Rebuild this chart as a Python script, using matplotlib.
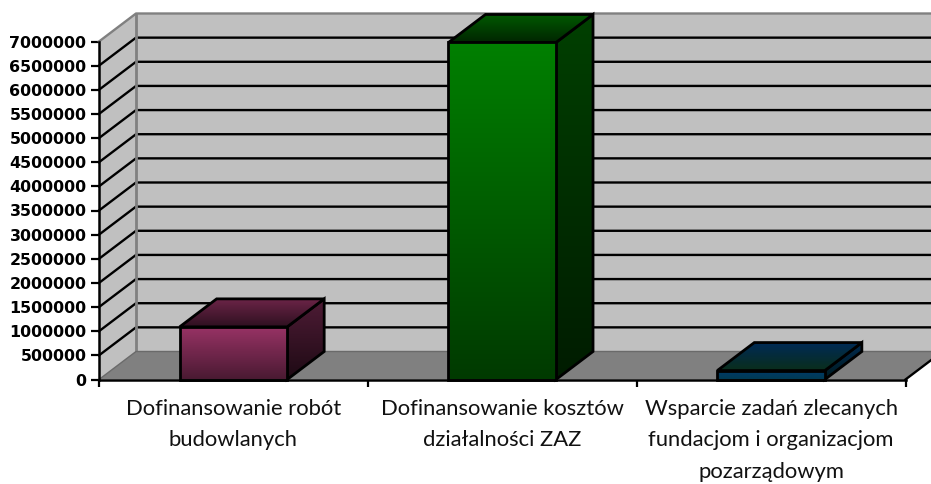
import numpy as np
import matplotlib
matplotlib.use('Agg')
import matplotlib.pyplot as plt
from matplotlib.colors import LinearSegmentedColormap
from matplotlib.patches import Polygon

categories = ['Dofinansowanie robót\nbudowlanych',
              'Dofinansowanie kosztów\ndziałalności ZAZ',
              'Wsparcie zadań zlecanych\nfundacjom i organizacjom\npozarządowym']
values = [1090000, 6980000, 185000]
y_ticks = list(range(0, 7000001, 500000))

# top colour, bottom colour of each face
front_cols = [('#993366', '#4a1a32'), ('#008000', '#003a00'), ('#003a6c', '#003a52')]
top_cols = [('#6b2447', '#2e1020'), ('#005a00', '#002600'), ('#002a55', '#0a2e1a')]
side_cols = [('#4f1c36', '#1e0a14'), ('#004000', '#001c00'), ('#002a50', '#001c22')]

W, H = 931, 484
x0, x1, y0, y1 = 99, 905.5, 379.5, 41.5

fig = plt.figure(figsize=(W / 100, H / 100), dpi=100)
ax = fig.add_axes([x0 / W, 1 - y0 / H, (x1 - x0) / W, (y0 - y1) / H])
ax.set_xlim(0, 3)
ax.set_ylim(0, 7000000)

# 3d offset of the back plane, in data units
dx = 37 / ((x1 - x0) / 3)
dy = 28 / ((y0 - y1) / 7000000)
ymax = 7000000
xmax = 3 + dx  # runs off the canvas


def grad_face(pts, cols, z):
    pts = np.array(pts)
    cmap = LinearSegmentedColormap.from_list('g', cols)
    im = ax.imshow(np.linspace(0, 1, 256).reshape(-1, 1), cmap=cmap, aspect='auto', origin='upper',
                   extent=(pts[:, 0].min(), pts[:, 0].max(), pts[:, 1].min(), pts[:, 1].max()), zorder=z)
    im.set_clip_path(Polygon(pts, closed=True, transform=ax.transData))
    im.set_clip_box(fig.bbox)
    ax.add_patch(Polygon(pts, closed=True, fill=False, ec='black', lw=2, zorder=z + 0.1,
                         clip_on=False, joinstyle='miter'))


# walls and floor
ax.add_patch(Polygon([(dx, dy), (xmax, dy), (xmax, ymax + dy), (dx, ymax + dy)], fc='#c0c0c0', ec='none',
                     zorder=1, clip_on=False))
ax.add_patch(Polygon([(0, 0), (dx, dy), (dx, ymax + dy), (0, ymax)], fc='#c0c0c0', ec='none',
                     zorder=1, clip_on=False))
ax.add_patch(Polygon([(0, 0), (dx, dy), (xmax, dy), (3, 0)], fc='#808080', ec='none',
                     zorder=2, clip_on=False))

# gridlines run along the side wall and then the back wall
for v in y_ticks[1:-1]:
    ax.plot([0, dx, xmax], [v, v + dy, v + dy], color='black', lw=1.7, zorder=1.5, clip_on=False,
            solid_joinstyle='miter')

# wall borders
ax.plot([0, dx, xmax], [ymax, ymax + dy, ymax + dy], color='#808080', lw=1.7, zorder=1.6, clip_on=False)
ax.plot([dx, dx], [dy, ymax + dy], color='#808080', lw=2, zorder=1.6, clip_on=False)
ax.plot([0, dx, xmax], [0, dy, dy], color='#6a6a6a', lw=1, zorder=2.1, clip_on=False)
ax.plot([3, xmax], [0, dy], color='black', lw=1.7, zorder=2.1, clip_on=False)

# bars
bar_w = 0.4
for i, v in enumerate(values):
    l = i + 0.5 - bar_w / 2
    r = i + 0.5 + bar_w / 2
    grad_face([(r, 0), (r + dx, dy), (r + dx, v + dy), (r, v)], side_cols[i], 3)
    grad_face([(l, v), (r, v), (r + dx, v + dy), (l + dx, v + dy)], top_cols[i], 3.2)
    grad_face([(l, 0), (r, 0), (r, v), (l, v)], front_cols[i], 3.4)

ax.set_xlim(0, 3)
ax.set_ylim(0, 7000000)
ax.patch.set_visible(False)
for s in ['top', 'right']:
    ax.spines[s].set_visible(False)
for s in ['left', 'bottom']:
    ax.spines[s].set_linewidth(1.8)
    ax.spines[s].set_zorder(5)

ax.set_yticks(y_ticks, [str(v) for v in y_ticks], fontsize=11.4, fontweight='bold', family='DejaVu Sans')
ax.tick_params(axis='y', length=5.5, width=1.6, pad=3.5)
ax.set_xticks([0, 1, 2, 3], [])
ax.tick_params(axis='x', length=5, width=1.6)
ax.set_xticks([0.5, 1.5, 2.5], categories, minor=True, fontsize=15.8, family='Lato', linespacing=1.72,
              color='#111111')
ax.tick_params(axis='x', which='minor', length=0, pad=14)

fig.savefig('out.png', dpi=100)
